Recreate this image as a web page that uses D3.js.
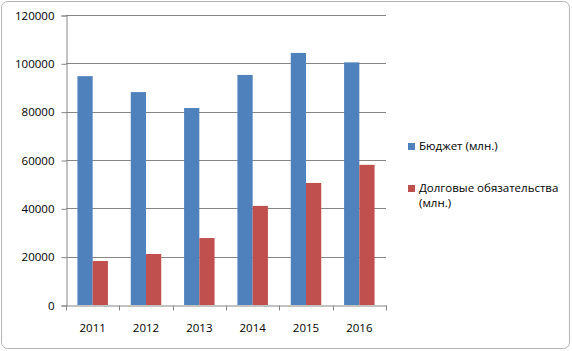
<!DOCTYPE html>
<html>
<head>
<meta charset="utf-8">
<script src="https://cdn.jsdelivr.net/npm/d3@7"></script>
<style>
  body { margin: 0; background: #fff; }
  text { font-family: "Open Sans", sans-serif; fill: #000; }
</style>
</head>
<body>
<script>
// Data
var years = ["2011", "2012", "2013", "2014", "2015", "2016"];
var budget = [94700, 88100, 81500, 95200, 104300, 100400];
var debt = [18200, 21100, 27700, 41000, 50500, 58000];
var seriesNames = ["Бюджет (млн.)", "Долговые обязательства (млн.)"];
var yTicks = [0, 20000, 40000, 60000, 80000, 100000, 120000];

var W = 572, H = 351;
var plot = {left: 66, right: 386, top: 15, bottom: 305};

var svg = d3.select("body").append("svg")
    .attr("width", W)
    .attr("height", H);

// outer chart border
svg.append("rect")
    .attr("x", 1.5).attr("y", 1.5)
    .attr("width", W - 4).attr("height", H - 4)
    .attr("rx", 6)
    .attr("fill", "#fff")
    .attr("stroke", "#b4b4b4");

var x = d3.scaleBand()
    .domain(years)
    .range([plot.left, plot.right]);

var y = d3.scaleLinear()
    .domain([0, 120000])
    .range([plot.bottom, plot.top]);

// gridlines
svg.append("g").selectAll("line")
    .data(yTicks.slice(1))
    .enter().append("line")
    .attr("x1", plot.left).attr("x2", plot.right)
    .attr("y1", function(d) { return Math.round(y(d)) + 0.5; })
    .attr("y2", function(d) { return Math.round(y(d)) + 0.5; })
    .attr("stroke", "#868686");

// bars
var groupW = x.bandwidth() * 2 / 3.5;
var barW = groupW / 2;
var colors = ["#4f81bd", "#c0504d"];

[budget, debt].forEach(function(vals, s) {
    svg.append("g").selectAll("rect")
        .data(vals)
        .enter().append("rect")
        .attr("x", function(d, i) {
            return x(years[i]) + (x.bandwidth() - groupW) / 2 + s * barW;
        })
        .attr("y", function(d) { return y(d); })
        .attr("width", barW)
        .attr("height", function(d) { return y(0) - y(d); })
        .attr("fill", colors[s]);
});

// y axis
var yAxis = d3.axisLeft(y)
    .tickValues(yTicks)
    .tickSize(5)
    .tickPadding(7)
    .tickFormat(d3.format("d"));

var gy = svg.append("g")
    .attr("transform", "translate(" + (plot.left + 0.5) + ",0.5)")
    .call(yAxis);
gy.select(".domain").attr("stroke", "#868686");
gy.selectAll(".tick line").attr("stroke", "#868686");
gy.selectAll(".tick text")
    .attr("font-size", "11.5px")
    .attr("font-family", "Open Sans, sans-serif")
    .attr("fill", "#000");

// x axis
var xAxis = d3.axisBottom(x)
    .tickSize(0)
    .tickPadding(18);

var gx = svg.append("g")
    .attr("transform", "translate(0," + (plot.bottom + 0.5) + ")")
    .call(xAxis);
gx.select(".domain").attr("stroke", "#868686");
gx.selectAll(".tick text")
    .attr("font-size", "11.5px")
    .attr("font-family", "Open Sans, sans-serif")
    .attr("fill", "#000");

// category separator ticks
gx.append("g").selectAll("line")
    .data(years.concat(["end"]))
    .enter().append("line")
    .attr("x1", function(d, i) { return Math.round(plot.left + i * x.step()) + 0.5; })
    .attr("x2", function(d, i) { return Math.round(plot.left + i * x.step()) + 0.5; })
    .attr("y1", 0).attr("y2", 5)
    .attr("stroke", "#868686");

// legend
var legend = svg.append("g");
var legendItems = [
    {lines: ["Бюджет (млн.)"], y: 150},
    {lines: ["Долговые обязательства", "(млн.)"], y: 192}
];
legendItems.forEach(function(item, i) {
    legend.append("rect")
        .attr("x", 408).attr("y", item.y - 7)
        .attr("width", 7).attr("height", 7)
        .attr("fill", colors[i]);
    item.lines.forEach(function(line, j) {
        legend.append("text")
            .attr("x", 419)
            .attr("y", item.y + j * 15)
            .attr("font-size", "11.5px")
            .text(line);
    });
});
</script>
</body>
</html>
